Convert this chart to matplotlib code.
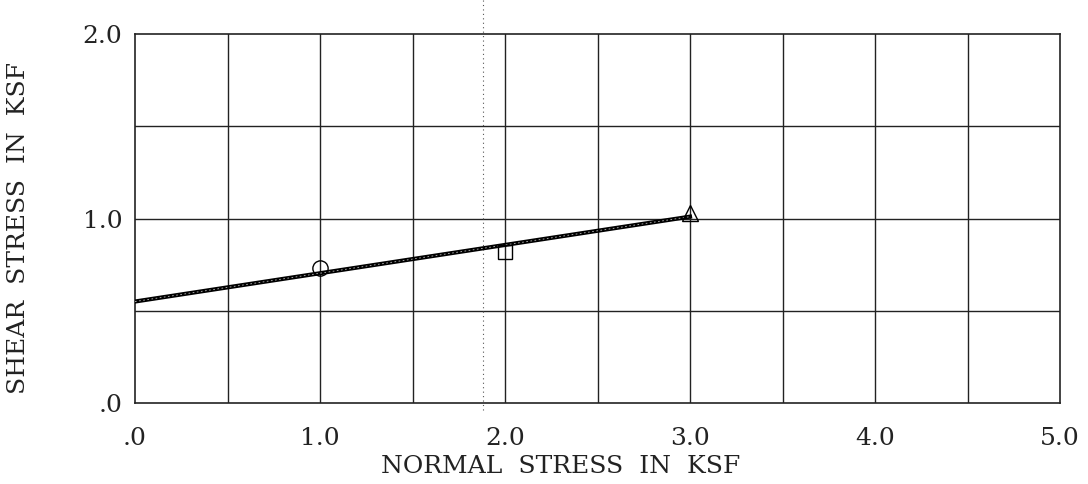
import numpy as np
import matplotlib.pyplot as plt

# test points (normal stress, shear stress) in ksf
circle_pt = [1.0, 0.73]
square_pt = [2.0, 0.82]
triangle_pt = [3.0, 1.03]

# strength envelope end points
env_x = [0.0, 3.0]
env_y = [0.55, 1.01]

x_ticks = [0.0, 1.0, 2.0, 3.0, 4.0, 5.0]
x_ticklabels = ['.0', '1.0', '2.0', '3.0', '4.0', '5.0']
y_ticks = [0.0, 1.0, 2.0]
y_ticklabels = ['.0', '1.0', '2.0']

plt.rcParams['font.family'] = ['DejaVu Serif']

fig = plt.figure(figsize=[10.88, 4.84], dpi=100)
ax = fig.add_axes([135/1088, 1 - 403/484, (1060 - 135)/1088, (403 - 34)/484])

ax.set_xlim(0, 5)
ax.set_ylim(0, 2)

# grid every 0.5
for gx in np.arange(0.5, 5.0, 0.5):
  ax.axvline(gx, color='#222222', lw=1.0, zorder=1)
for gy in np.arange(0.5, 2.0, 0.5):
  ax.axhline(gy, color='#222222', lw=1.0, zorder=1)

# scan artifact: dotted vertical line crossing the top
ax.plot([1.88, 1.88], [-0.04, 2.2], color='#555555', lw=0.8, ls=(0, (1, 3)),
        clip_on=False, zorder=1)

ax.plot(env_x, env_y, color='black', lw=3.0, zorder=3)
ax.plot(env_x, env_y, color='#bbbbbb', lw=0.6, ls=(0, (2, 3)), zorder=4)

ax.plot(*circle_pt, marker='o', ms=11, mfc='none', mec='black', mew=1.0, zorder=5)
ax.plot(*square_pt, marker='s', ms=10, mfc='none', mec='black', mew=1.0, zorder=5)
ax.plot(*triangle_pt, marker='^', ms=12, mfc='none', mec='black', mew=1.0, zorder=5)

for s in ax.spines.values():
  s.set_linewidth(1.2)
  s.set_color('#222222')

ax.set_xticks(x_ticks)
ax.set_xticklabels(x_ticklabels)
ax.set_yticks(y_ticks)
ax.set_yticklabels(y_ticklabels)
ax.tick_params(axis='x', length=0, labelsize=18, pad=17, colors='#222222')
ax.tick_params(axis='y', length=0, labelsize=18, pad=9, colors='#222222')

ax.set_xlabel('NORMAL  STRESS  IN  KSF', fontsize=18, color='#222222')
ax.xaxis.set_label_coords(0.4605, -0.14)
ax.set_ylabel('SHEAR  STRESS  IN  KSF', fontsize=18, color='#222222')
ax.yaxis.set_label_coords(-0.113, 0.474)

plt.savefig('out.png', dpi=100)
